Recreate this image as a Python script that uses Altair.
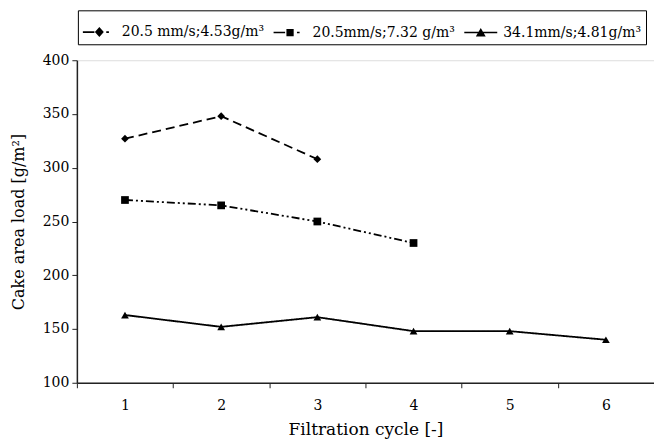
import altair as alt
import pandas as pd

series_names = ["20.5 mm/s;4.53g/m³", "20.5mm/s;7.32 g/m³", "34.1mm/s;4.81g/m³"]
cycle_labels = ["1", "2", "3", "4", "5", "6"]
cycles_s1 = ["1", "2", "3"]
load_s1 = [327, 348, 308]
cycles_s2 = ["1", "2", "3", "4"]
load_s2 = [270, 265, 250, 230]
cycles_s3 = ["1", "2", "3", "4", "5", "6"]
load_s3 = [163, 152, 161, 148, 148, 140]
y_ticks = [100, 150, 200, 250, 300, 350, 400]

rows = []
for name, cs, vs in zip(series_names, [cycles_s1, cycles_s2, cycles_s3], [load_s1, load_s2, load_s3]):
    for c, v in zip(cs, vs):
        rows.append({"series": name, "cycle": c, "load": v})
df = pd.DataFrame(rows)

FONT = "DejaVu Serif"
AX = "#222222"

x_enc = alt.X(
    "cycle:N",
    scale=alt.Scale(type="band", domain=cycle_labels, paddingInner=0, paddingOuter=0),
    axis=alt.Axis(title="Filtration cycle [-]", labelAngle=0, tickBand="extent",
                  domainColor=AX, tickColor=AX, tickSize=5, labelPadding=11,
                  labelFont=FONT, labelFontSize=14, labelColor="black", labelFontWeight="normal",
                  titleFont=FONT, titleFontSize=17, titleFontWeight="normal", titleColor="black",
                  titlePadding=9, domainWidth=1.5),
)
y_enc = alt.Y(
    "load:Q",
    scale=alt.Scale(domain=[100, 400], nice=False, zero=False),
    axis=alt.Axis(title="Cake area load [g/m²]", values=y_ticks, grid=False,
                  domainColor=AX, tickColor=AX, tickSize=5, labelPadding=3,
                  labelFont=FONT, labelFontSize=14, labelColor="black",
                  titleFont=FONT, titleFontSize=16, titleFontWeight="normal", titleColor="black",
                  titlePadding=16, domainWidth=1.5),
)

lines = alt.Chart(df).mark_line(color="black", strokeWidth=1.8).encode(
    x=x_enc, y=y_enc,
    strokeDash=alt.StrokeDash("series:N", scale=alt.Scale(domain=series_names,
                              range=[[9, 5], [8, 3, 2, 3, 2, 3], [1, 0]]), legend=None),
    detail="series:N",
)

points = alt.Chart(df).mark_point(filled=True, color="black", opacity=1, size=60).encode(
    x=x_enc, y=y_enc,
    shape=alt.Shape("series:N", scale=alt.Scale(domain=series_names,
                    range=["diamond", "square", "triangle-up"]), legend=None),
)

# legend glyphs: thin filled bars for line pieces plus a filled marker
legend_paths = [
    "M-1,-0.05L-0.3,-0.05L-0.3,0.05L-1,0.05Z"
    "M0,-0.3L0.27,0L0,0.3L-0.27,0Z"
    "M0.42,-0.05L0.58,-0.05L0.58,0.05L0.42,0.05Z",
    "M-1,-0.05L-0.3,-0.05L-0.3,0.05L-1,0.05Z"
    "M-0.22,-0.22L0.22,-0.22L0.22,0.22L-0.22,0.22Z"
    "M0.42,-0.05L0.58,-0.05L0.58,0.05L0.42,0.05Z",
    "M-1,-0.05L1,-0.05L1,0.05L-1,0.05Z"
    "M0,-0.28L0.3,0.24L-0.3,0.24Z",
]

legend_layer = alt.Chart(df).transform_filter("false").mark_point(
    filled=True, color="black", opacity=1
).encode(
    shape=alt.Shape("series:N", scale=alt.Scale(domain=series_names, range=legend_paths),
                    legend=alt.Legend(orient="none", legendX=1, legendY=-50, direction="horizontal",
                                      title=None, padding=4, strokeColor="black",
                                      labelFont=FONT, labelFontSize=14, labelColor="black",
                                      symbolSize=1089, labelOffset=5, columnPadding=6,
                                      symbolFillColor="black", symbolOpacity=1)),
)

chart = alt.layer(lines, points, legend_layer).resolve_scale(shape="independent").properties(
    width=578, height=323,
    padding={"left": 77, "top": 60, "right": 0, "bottom": 63},
    autosize=alt.AutoSizeParams(type="none"),
).configure_view(stroke=AX, strokeWidth=1.5).configure(background="white")

chart.save("out.html", embed_options={"renderer": "svg", "actions": False})
